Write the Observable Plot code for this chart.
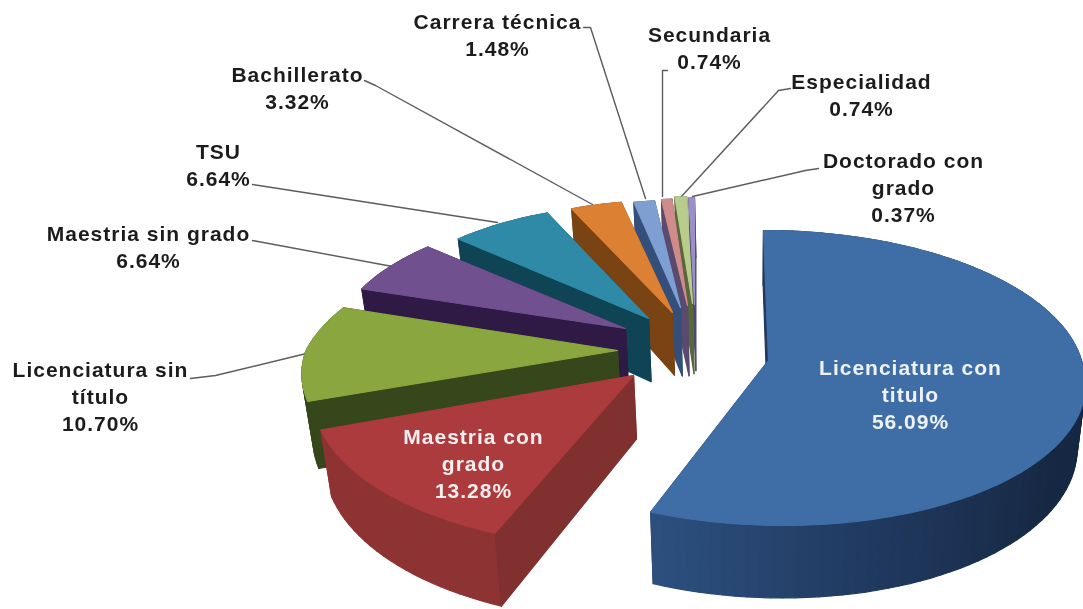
<!DOCTYPE html>
<html><head><meta charset="utf-8">
<style>html,body{margin:0;padding:0;background:#fff}svg{display:block;filter:blur(0.4px)}</style>
<script src="https://cdn.jsdelivr.net/npm/d3@7"></script>
<script src="https://cdn.jsdelivr.net/npm/@observablehq/plot@0.6"></script>
</head><body><div id="chart"></div>
<script>
// ---- data ----
const categories = ["Licenciatura con\ntitulo","Maestria con\ngrado","Licenciatura sin\ntítulo","Maestria sin grado","TSU","Bachillerato","Carrera técnica","Secundaria","Especialidad","Doctorado con\ngrado"];
const shares = [56.09,13.28,10.70,6.64,6.64,3.32,1.48,0.74,0.74,0.37];
const topColors = ["#3f6ea6","#ac3b3d","#8aa63f","#71508f","#2f8aa8","#dc8134","#7f9fd2","#d08b8b","#b8cc8c","#9c8fc8"];
const wallColors = ["#20395f","#8a3131","#36481b","#2e1a45","#0f4454","#7a4314","#34507a","#5a4a6e","#58683a","#4d4a70"];
const wallHighlights = ["#2e5282","#8e3333","#36481b","#2e1a45","#0f4454","#7a4314","#34507a","#5a4a6e","#58683a","#4d4a70"];

// ---- layout of the exploded perspective pie, in picture units ----
const sliceLayout = [
  {ax:768,ay:360,sx:1,    sy:1,   c:-5.6,cf:-13,d:65},
  {ax:633,ay:375,sx:1.015,sy:1.04,c:0,cf:4.8,d:65},
  {ax:617,ay:350,sx:.995, sy:.97, c:37,cf:14,d:67},
  {ax:625,ay:328,sx:.92,  sy:.9,  c:0,cf:0,d:68},
  {ax:648,ay:318,sx:.885, sy:.88, c:0,cf:0,d:68},
  {ax:672,ay:312,sx:.88,  sy:.865,c:0,cf:0,d:68},
  {ax:680,ay:307,sx:.8,   sy:.825,c:0,cf:0,d:74},
  {ax:687,ay:305,sx:.8,   sy:.82, c:0,cf:0,d:76},
  {ax:692,ay:303,sx:.9,   sy:.82, c:0,cf:0,d:76},
  {ax:694,ay:304,sx:.85,  sy:.82, c:0,cf:0,d:72}
];
const labelLayout = [
  {x:910,y:393,fill:"#eef3fa"},{x:473,y:462,fill:"#f7eeee"},{x:100,y:395,fill:"#1c1c1c"},
  {x:148,y:245,fill:"#1c1c1c"},{x:218,y:163,fill:"#1c1c1c"},{x:297,y:86,fill:"#1c1c1c"},
  {x:497,y:33,fill:"#1c1c1c"},{x:709,y:46,fill:"#1c1c1c"},{x:861,y:93,fill:"#1c1c1c"},{x:903,y:186,fill:"#1c1c1c"}
];
const leaderPaths = [
  [[190,378],[215,375],[310,352]],
  [[252,240],[392,266]],
  [[252,184],[497,222]],
  [[364,80],[375,85],[592,204]],
  [[583,27],[590,27],[645,198]],
  [[667,70],[662,70],[662,196]],
  [[790,88],[778,90],[681,196]],
  [[818,168],[805,170],[692,196]]
];
const H = 145.4, A = 313, K = 0.1186, DEG = Math.PI/180;

function project(L, deg, r){
  const u = Math.sin(deg*DEG)*r, v = Math.cos(deg*DEG)*r, w = 1+K*v;
  return [L.ax + L.sx*(A*u + (v<0?L.cf:L.c)*v)/w, L.ay - L.sy*H*v/w];
}
function drop(L, p){
  const d = L.d + 0.06*(p[1]-400);
  return [p[0] + (750-p[0])*0.025, p[1]+d];
}

// build the polygons, back slices first (painter's order)
const rows = [];
let id = 0;
function poly(pts, color){ id++; pts.forEach(p=>rows.push({id, x:p[0], y:p[1], color})); }
function wallTone(i, deg){
  const a = ((deg%360)+360)%360;
  const t = Math.max(-1, Math.min(1,(a-165)/40));
  return t<0 ? d3.interpolateRgb(wallColors[i],"#000")(-t*0.3) : d3.interpolateRgb(wallColors[i],wallHighlights[i])(t);
}
let cum = 0;
const spans = shares.map(s=>{const a=cum; cum+=s; return [a*3.6,cum*3.6];});
const order = [9,8,7,6,5,4,3,2,0,1];
for (const i of order){
  const L = sliceLayout[i], [a0,a1] = spans[i];
  const apex = project(L,0,0), apexB = drop(L,apex);
  const p0 = project(L,a0,1), p1 = project(L,a1,1);
  // hidden radial wall
  poly([apex,p1,drop(L,p1),apexB], wallColors[i]);
  // rim
  const n = Math.max(2,Math.ceil((a1-a0)/2));
  for (let k=0;k<n;k++){
    const b0=a0+(a1-a0)*k/n, b1=a0+(a1-a0)*(k+1)/n;
    const q0=project(L,b0,1), q1=project(L,b1,1);
    poly([q0,q1,drop(L,q1),drop(L,q0)], wallTone(i,(b0+b1)/2));
  }
  // visible radial wall
  poly([apex,p0,drop(L,p0),apexB], i===1 ? "#80302f" : wallColors[i]);
  // top face
  const top=[apex];
  for (let k=0;k<=n*2;k++) top.push(project(L,a0+(a1-a0)*k/(n*2),1));
  poly(top, topColors[i]);
}

const leaderRows = leaderPaths.flatMap((path,i)=>path.map(p=>({i,x:p[0],y:p[1]})));
const labels = categories.map((c,i)=>({text:`${c}\n${shares[i].toFixed(2)}%`, ...labelLayout[i]}));

const chart = Plot.plot({
  width:1083, height:609,
  marginTop:0, marginRight:0, marginBottom:0, marginLeft:0,
  x:{domain:[0,1083],range:[0,1083],axis:null},
  y:{domain:[0,609],range:[0,609],axis:null},
  color:{type:"identity"},
  style:{background:"#fff",letterSpacing:"1px"},
  marks:[
    Plot.line(leaderRows,{x:"x",y:"y",z:"i",stroke:"#5c5c5c",strokeWidth:1.4,curve:"linear"}),
    Plot.line(rows,{x:"x",y:"y",z:"id",fill:"color",stroke:"color",strokeWidth:1.2,strokeLinejoin:"round",curve:"linear-closed"}),
    Plot.text(labels,{x:"x",y:"y",text:"text",fill:"fill",fontFamily:"Liberation Sans",fontWeight:"bold",fontSize:21,lineHeight:1.29,textAnchor:"middle"})
  ]
});
document.getElementById("chart").append(chart);
</script></body></html>
